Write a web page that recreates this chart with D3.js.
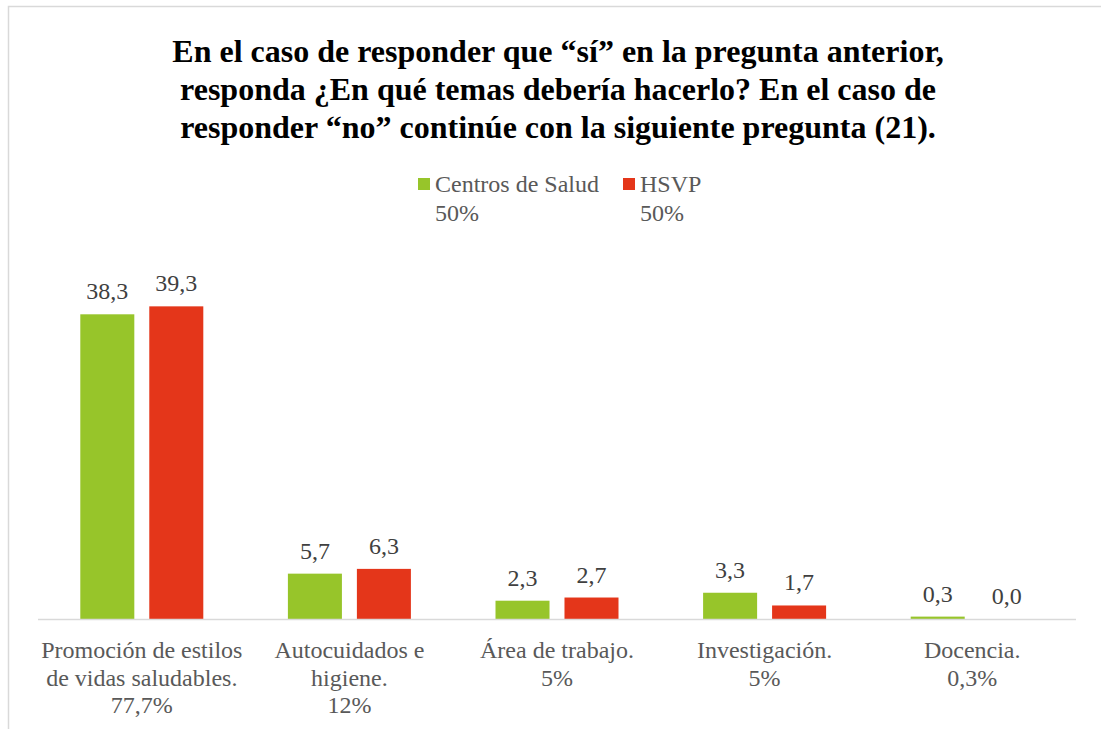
<!DOCTYPE html>
<html>
<head>
<meta charset="utf-8">
<script src="https://cdn.jsdelivr.net/npm/d3@7"></script>
<style>
  body { margin: 0; background: #fff; }
  svg { display: block; }
</style>
</head>
<body>
<svg width="1101" height="729"></svg>
<script>
// Data
var titleLines = [
  "En el caso de responder que \u201cs\u00ed\u201d en la pregunta anterior,",
  "responda \u00bfEn qu\u00e9 temas deber\u00eda hacerlo? En el caso de",
  "responder \u201cno\u201d contin\u00fae con la siguiente pregunta (21)."
];
var categories = [
  "Promoción de estilos de vidas saludables.",
  "Autocuidados e higiene.",
  "Área de trabajo.",
  "Investigación.",
  "Docencia."
];
var categoryLines = [
  ["Promoción de estilos", "de vidas saludables.", "77,7%"],
  ["Autocuidados e", "higiene.", "12%"],
  ["Área de trabajo.", "5%"],
  ["Investigación.", "5%"],
  ["Docencia.", "0,3%"]
];
var seriesNames = ["Centros de Salud", "HSVP"];
var seriesShares = ["50%", "50%"];
var centrosValues = [38.3, 5.7, 2.3, 3.3, 0.3];
var hsvpValues = [39.3, 6.3, 2.7, 1.7, 0.0];
var colors = ["#97c52a", "#e4361a"];

var svg = d3.select("svg");
var fontFamily = "Liberation Serif";

// chart frame
svg.append("rect")
  .attr("x", 8.5).attr("y", 6.5)
  .attr("width", 1100).attr("height", 730)
  .attr("fill", "#fff")
  .attr("stroke", "#d9d9d9")
  .attr("stroke-width", 1.5);

// title
svg.append("text")
  .attr("text-anchor", "middle")
  .style("font-family", fontFamily)
  .style("font-weight", "bold")
  .style("font-size", "32px")
  .attr("fill", "#000")
  .selectAll("tspan")
  .data(titleLines)
  .enter().append("tspan")
    .attr("x", 558)
    .attr("y", function(d, i) { return 62 + i * 38; })
    .text(function(d) { return d; });

// legend
var legendX = [418, 623];
var legend = svg.append("g").selectAll("g")
  .data(seriesNames)
  .enter().append("g")
    .attr("transform", function(d, i) { return "translate(" + legendX[i] + ",0)"; });

legend.append("rect")
  .attr("x", 0).attr("y", 178)
  .attr("width", 12).attr("height", 12)
  .attr("fill", function(d, i) { return colors[i]; });

legend.append("text")
  .style("font-family", fontFamily)
  .style("font-size", "24px")
  .attr("fill", "#595959")
  .each(function(d, i) {
    var t = d3.select(this);
    t.append("tspan").attr("x", 17).attr("y", 192).text(d);
    t.append("tspan").attr("x", 17).attr("y", 221).text(seriesShares[i]);
  });

// scales
var margin = {left: 38, right: 1076, top: 261, bottom: 619};

var x0 = d3.scaleBand()
  .domain(categories)
  .range([margin.left, margin.right])
  .padding(0);

var x1 = d3.scaleBand()
  .domain(seriesNames)
  .range([x0.bandwidth() / 2 - 61.5, x0.bandwidth() / 2 + 61.5])
  .paddingInner(0.217)
  .paddingOuter(0);

var y = d3.scaleLinear()
  .domain([0, 45])
  .range([margin.bottom, margin.top]);

var rows = categories.map(function(c, i) {
  return {category: c, values: [
    {series: seriesNames[0], value: centrosValues[i], color: colors[0]},
    {series: seriesNames[1], value: hsvpValues[i], color: colors[1]}
  ]};
});

var groups = svg.append("g").selectAll("g")
  .data(rows)
  .enter().append("g")
    .attr("transform", function(d) { return "translate(" + x0(d.category) + ",0)"; });

groups.selectAll("rect")
  .data(function(d) { return d.values; })
  .enter().append("rect")
    .attr("x", function(d) { return x1(d.series); })
    .attr("y", function(d) { return y(d.value); })
    .attr("width", x1.bandwidth())
    .attr("height", function(d) { return y(0) - y(d.value); })
    .attr("fill", function(d) { return d.color; });

groups.selectAll("text.value")
  .data(function(d) { return d.values; })
  .enter().append("text")
    .attr("class", "value")
    .attr("x", function(d) { return x1(d.series) + x1.bandwidth() / 2; })
    .attr("y", function(d) { return y(d.value) - 15; })
    .attr("text-anchor", "middle")
    .style("font-family", fontFamily)
    .style("font-size", "24px")
    .attr("fill", "#404040")
    .text(function(d) { return d.value.toFixed(1).replace(".", ","); });

// x axis line
svg.append("line")
  .attr("x1", margin.left).attr("x2", margin.right)
  .attr("y1", y(0) + 0.5).attr("y2", y(0) + 0.5)
  .attr("stroke", "#d9d9d9")
  .attr("stroke-width", 1.5);

// category labels
svg.append("g").selectAll("text")
  .data(categories)
  .enter().append("text")
    .attr("text-anchor", "middle")
    .style("font-family", fontFamily)
    .style("font-size", "24px")
    .attr("fill", "#595959")
    .each(function(d, i) {
      var t = d3.select(this);
      var cx = x0(d) + x0.bandwidth() / 2;
      categoryLines[i].forEach(function(line, j) {
        t.append("tspan").attr("x", cx).attr("y", 658 + j * 27.5).text(line);
      });
    });
</script>
</body>
</html>
